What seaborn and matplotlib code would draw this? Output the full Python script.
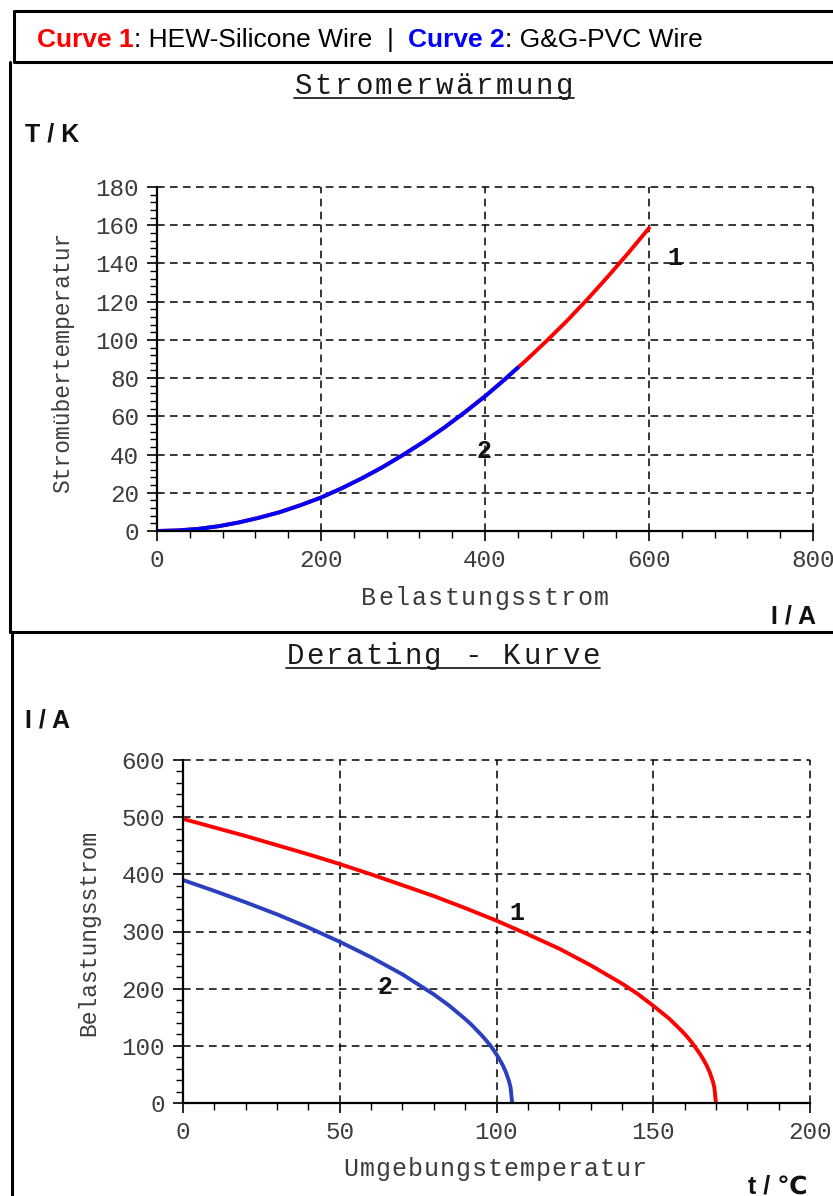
import pandas as pd
import seaborn as sns
import matplotlib.pyplot as plt
from matplotlib.lines import Line2D
from matplotlib.ticker import MultipleLocator

# Stromerwaermung: Belastungsstrom I/A -> Stromuebertemperatur T/K
heat_current_1 = [0, 25, 50, 75, 100, 125, 150, 175, 200, 225, 250, 275, 300,
                  325, 350, 375, 400, 425, 450, 475, 500, 525, 550, 575, 600]
heat_temp_1 = [0.0, 0.3, 1.1, 2.5, 4.5, 7.0, 9.9, 13.5, 17.5, 22.3, 27.6, 33.4, 39.8,
               46.6, 54.0, 62.0, 70.6, 79.6, 89.3, 99.4, 110.0, 121.3, 133.2, 145.6, 158.5]
heat_current_2 = [0, 25, 50, 75, 100, 125, 150, 175, 200, 225, 250, 275, 300,
                  325, 350, 375, 400, 420, 440]
heat_temp_2 = [0.0, 0.3, 1.1, 2.5, 4.5, 7.0, 9.9, 13.5, 17.5, 22.3, 27.6, 33.4, 39.8,
               46.6, 54.0, 62.0, 70.4, 77.8, 85.5]

# Derating-Kurve: Umgebungstemperatur t/°C -> Belastungsstrom I/A
derate_temp_1 = [0, 10, 20, 30, 40, 50, 60, 70, 80, 90, 100, 110, 120, 130, 135, 140,
                 145, 150, 155, 158, 160, 162, 164, 165, 166, 167, 168, 169, 169.5, 170]
derate_current_1 = [497, 482, 467, 451, 435, 418, 400, 381, 362, 341, 319, 295, 270,
                    241, 225, 209, 191, 170, 148, 132, 121, 108, 93, 85, 76, 66, 54, 38, 27, 0]
derate_temp_2 = [0, 10, 20, 30, 40, 50, 60, 70, 80, 85, 90, 92, 95, 96, 98, 99, 100,
                 101, 102, 103, 104, 104.5, 105]
derate_current_2 = [390, 371, 351, 330, 307, 282, 255, 225, 190, 170, 147, 137, 120, 114,
                    101, 93, 85, 76, 66, 54, 38, 27, 0]

W, H = 833, 1196
TICK_GRAY = "#3c3c3c"

sns.set_style("white")
plt.rcParams["font.family"] = ["Liberation Mono", "DejaVu Sans Mono"]

fig = plt.figure(figsize=(W / 100, H / 100), dpi=100)


def fx(px):
    return px / W


def fy(py):
    return 1 - py / H


def spaced_text(s, cx, base_y, pitch, underline=False, **kw):
    # Courier-artige Schrift mit Sperrung, Zeichen einzeln setzen
    x0 = cx - (len(s) - 1) * pitch / 2
    for i, ch in enumerate(s):
        fig.text(fx(x0 + i * pitch), fy(base_y), ch, ha="center", va="baseline", **kw)
    if underline:
        fig.add_artist(Line2D([fx(x0 - pitch / 2 + 1), fx(x0 + (len(s) - 0.5) * pitch - 1)],
                              [fy(base_y + 3.5), fy(base_y + 3.5)],
                              color="#222222", lw=1.3, transform=fig.transFigure))


def frame_line(x, y, **kw):
    fig.add_artist(Line2D([fx(v) for v in x], [fy(v) for v in y], color="black",
                          transform=fig.transFigure, **kw))


# Rahmen
frame_line([900, 14, 14, 900], [11, 11, 62, 62], lw=2.2)
frame_line([10, 10], [62, 632], lw=2.2)
frame_line([900, 10], [632, 632], lw=2.2)
frame_line([12, 12], [632, 1200], lw=2.2)

# Kopfzeile
renderer = fig.canvas.get_renderer()
pieces = [("Curve 1", "#ff0000", "bold"), (": HEW-Silicone Wire  |  ", "black", "normal"),
          ("Curve 2", "#0000ff", "bold"), (": G&G-PVC Wire", "black", "normal")]
x_cur = 37
for txt, col, wt in pieces:
    t = fig.text(fx(x_cur), fy(47), txt, color=col, weight=wt, fontsize=19,
                 family=["Liberation Sans", "DejaVu Sans"], ha="left", va="baseline")
    x_cur += t.get_window_extent(renderer).width


def style_axes(ax, xmaj, xmin, ymaj, ymin):
    ax.xaxis.set_major_locator(MultipleLocator(xmaj))
    ax.xaxis.set_minor_locator(MultipleLocator(xmin))
    ax.yaxis.set_major_locator(MultipleLocator(ymaj))
    ax.yaxis.set_minor_locator(MultipleLocator(ymin))
    ax.grid(True, which="major", color="black", ls=(0, (5, 3.5)), lw=1.1)
    ax.set_axisbelow(True)
    for gl in ax.get_xgridlines() + ax.get_ygridlines():
        gl.set_clip_on(False)
    for side in ["top", "right"]:
        ax.spines[side].set_visible(False)
    for side in ["left", "bottom"]:
        ax.spines[side].set_color("black")
        ax.spines[side].set_linewidth(1.6)
    ax.tick_params(which="both", bottom=True, left=True, top=False, right=False)
    ax.tick_params(which="major", direction="out", length=7, width=1.2, color="black",
                   labelsize=17.5, labelcolor=TICK_GRAY, pad=6)
    ax.tick_params(which="minor", direction="out", length=5, width=1.0, color="black")
    ax.set_xlabel("")
    ax.set_ylabel("")


# --- Stromerwaermung ---
ax1 = fig.add_axes([fx(157), fy(531), (813 - 157) / W, (531 - 187) / H])
heat = pd.concat([
    pd.DataFrame({"I": heat_current_1, "T": heat_temp_1, "Kurve": "1"}),
    pd.DataFrame({"I": heat_current_2, "T": heat_temp_2, "Kurve": "2"}),
])
sns.lineplot(data=heat, x="I", y="T", hue="Kurve", palette={"1": "#ff0000", "2": "#0000ff"},
             lw=2.8, legend=False, sort=False, ax=ax1)
ax1.set_xlim(0, 800)
ax1.set_ylim(0, 180)
style_axes(ax1, 200, 40, 20, 4)
ax1.text(632, 143, "1", fontsize=18, weight="bold", color="#111111", ha="center", va="center")
ax1.text(399, 42, "2", fontsize=18, weight="bold", color="#111111", ha="center", va="center")

spaced_text("Stromerwärmung", 434, 94, 20.1, underline=True, fontsize=21, color="#1a1a1a")
fig.text(fx(25), fy(142), "T / K", fontsize=18, weight="bold", family=["Liberation Sans"],
         ha="left", va="baseline", color="#111111")
fig.text(fx(63), fy(362), "Stromübertemperatur", rotation=90, fontsize=16.5, color=TICK_GRAY,
         ha="center", va="center")
spaced_text("Belastungsstrom", 485, 605, 16.6, fontsize=18, color=TICK_GRAY)
fig.text(fx(771), fy(623), "I / A", fontsize=18, weight="bold", family=["Liberation Sans"],
         ha="left", va="baseline", color="#111111")

# --- Derating - Kurve ---
ax2 = fig.add_axes([fx(183), fy(1103), (810 - 183) / W, (1103 - 760) / H])
derate = pd.concat([
    pd.DataFrame({"t": derate_temp_1, "I": derate_current_1, "Kurve": "1"}),
    pd.DataFrame({"t": derate_temp_2, "I": derate_current_2, "Kurve": "2"}),
])
sns.lineplot(data=derate, x="t", y="I", hue="Kurve", palette={"1": "#ff0000", "2": "#2b3fbf"},
             lw=2.8, legend=False, sort=False, ax=ax2)
ax2.set_xlim(0, 200)
ax2.set_ylim(0, 600)
style_axes(ax2, 50, 10, 100, 20)
ax2.text(106.5, 332, "1", fontsize=18, weight="bold", color="#111111", ha="center", va="center")
ax2.text(64.5, 203, "2", fontsize=18, weight="bold", color="#111111", ha="center", va="center")

spaced_text("Derating - Kurve", 443, 664, 19.7, underline=True, fontsize=21, color="#1a1a1a")
fig.text(fx(25), fy(728), "I / A", fontsize=18, weight="bold", family=["Liberation Sans"],
         ha="left", va="baseline", color="#111111")
fig.text(fx(89), fy(933), "Belastungsstrom", rotation=90, fontsize=16.5, color=TICK_GRAY,
         ha="center", va="center")
spaced_text("Umgebungstemperatur", 495, 1176, 16.0, fontsize=18, color=TICK_GRAY)
fig.text(fx(748), fy(1193), "t / ℃", fontsize=18, weight="bold",
         family=["Liberation Sans", "DejaVu Sans"], ha="left", va="baseline", color="#111111")

fig.savefig("out.png", dpi=100, facecolor="white")
